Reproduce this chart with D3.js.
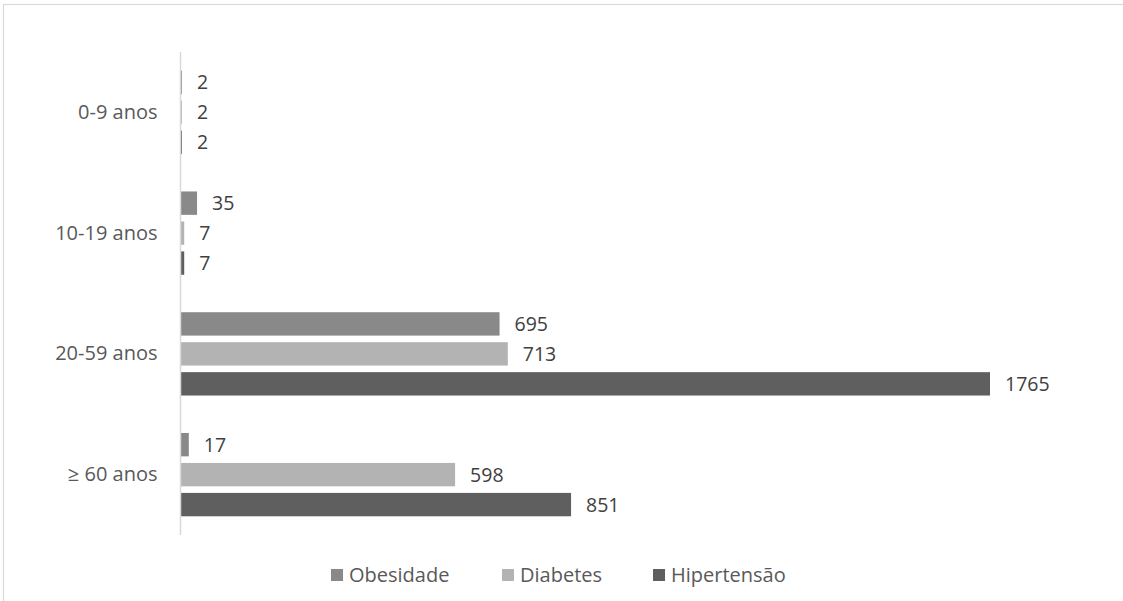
<!DOCTYPE html>
<html><head><meta charset="utf-8">
<script src="https://cdn.jsdelivr.net/npm/d3@7"></script>
<style>body{margin:0;background:#fff}svg{display:block}</style>
</head><body><svg id="c" width="1123" height="601"></svg>
<script>
const categories = ["0-9 anos", "10-19 anos", "20-59 anos", "≥ 60 anos"];
const seriesNames = ["Obesidade", "Diabetes", "Hipertensão"];
const obesidade = [2, 35, 695, 17];
const diabetes = [2, 7, 713, 598];
const hipertensao = [2, 7, 1765, 851];
const colors = ["#898989", "#b3b3b3", "#5f5f5f"];

const series = [obesidade, diabetes, hipertensao];
const svg = d3.select("#c");
const font = "'Open Sans', 'Noto Sans', sans-serif";

// outer frame
svg.append("rect").attr("x", 3.5).attr("y", 4.5).attr("width", 1200).attr("height", 700)
  .attr("fill", "none").attr("stroke", "#d9d9d9").attr("stroke-width", 1.2);

const x = d3.scaleLinear().domain([0, 1765]).range([181, 990]);
const y0 = d3.scaleBand().domain(categories).range([52, 535]).paddingInner(0.31).paddingOuter(0.155);
const y1 = d3.scaleBand().domain(seriesNames).range([0, y0.bandwidth()]).paddingInner(0.22).paddingOuter(0);

const groups = svg.append("g").selectAll("g").data(categories).join("g")
  .attr("transform", d => `translate(0,${y0(d)})`);

groups.each(function(cat, ci) {
  const g = d3.select(this);
  seriesNames.forEach((s, si) => {
    const v = series[si][ci];
    g.append("rect").attr("x", x(0)).attr("y", y1(s))
      .attr("width", x(v) - x(0)).attr("height", y1.bandwidth())
      .attr("fill", colors[si]);
    g.append("text").attr("x", x(v) + 15).attr("y", y1(s) + y1.bandwidth() / 2)
      .attr("dy", "0.36em").attr("font-family", font).attr("font-size", 19.5)
      .attr("fill", "#404040").text(v);
  });
});

// category axis
const yAxis = d3.axisLeft(y0).tickSize(0).tickPadding(23);
const ag = svg.append("g").attr("transform", "translate(180.5,0)").call(yAxis);
ag.select(".domain").attr("stroke", "#d9d9d9").attr("stroke-width", 1.5)
  .attr("d", "M0,52V535");
ag.selectAll("text").attr("font-family", font).attr("font-size", 20).attr("fill", "#595959");

// legend
const legendX = [331, 502, 653];
const lg = svg.append("g");
seriesNames.forEach((s, i) => {
  lg.append("rect").attr("x", legendX[i]).attr("y", 569).attr("width", 12).attr("height", 12).attr("fill", colors[i]);
  lg.append("text").attr("x", legendX[i] + 18).attr("y", 575).attr("dy", "0.36em")
    .attr("font-family", font).attr("font-size", 20).attr("fill", "#595959").text(s);
});
</script></body></html>
